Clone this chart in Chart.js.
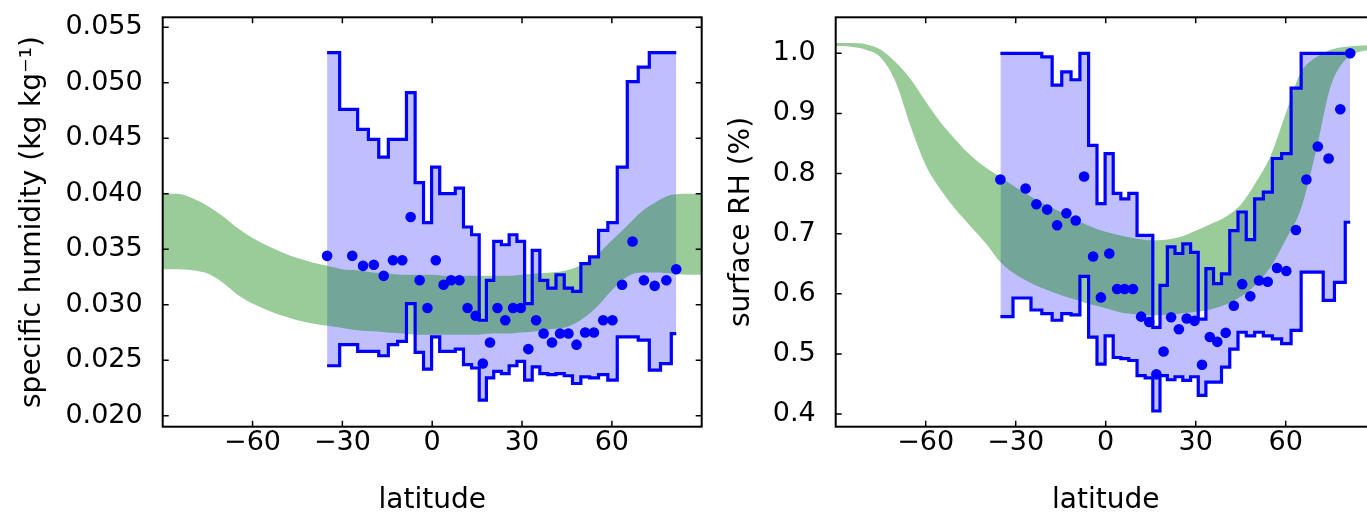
<!DOCTYPE html>
<html><head><meta charset="utf-8">
<script src="https://cdn.jsdelivr.net/npm/chart.js@4.4.1/dist/chart.umd.min.js"></script>
<style>
html,body{margin:0;padding:0;background:#fff;overflow:hidden;width:1367px;height:513px}
#wrap{position:relative;width:1400px;height:513px}
canvas{position:absolute;top:0}
#c1{left:0}
#c2{left:720px}
</style></head><body>
<div id="wrap"><canvas id="c1" width="720" height="513"></canvas><canvas id="c2" width="680" height="513"></canvas></div>
<script>
// ---- data ----
const stationLat = [-35.1,-26.7,-23.1,-19.5,-16.2,-13.1,-10.0,-7.2,-4.2,-1.6,1.2,3.8,6.3,9.1,11.8,14.5,16.9,19.3,21.8,24.4,27.0,29.6,32.1,34.7,37.2,40.0,42.7,45.5,48.2,51.1,54.0,57.1,60.2,63.4,66.9,70.7,74.3,78.2,81.5];

const qDots = [0.0344,0.0344,0.0335,0.0336,0.0326,0.0340,0.0340,0.0379,0.0322,0.0297,0.0340,0.0318,0.0322,0.0322,0.0297,0.0290,0.0247,0.0266,0.0297,0.0286,0.0297,0.0297,0.0260,0.0286,0.0274,0.0266,0.0274,0.0274,0.0264,0.0275,0.0275,0.0286,0.0286,0.0318,0.0357,0.0322,0.0317,0.0322,0.0332];
const qMax = [0.0527,0.0476,0.0458,0.0449,0.0433,0.0449,0.0449,0.0491,0.0410,0.0374,0.0424,0.0400,0.0400,0.0405,0.0370,0.0363,0.0286,0.0322,0.0357,0.0354,0.0363,0.0357,0.0301,0.0349,0.0322,0.0315,0.0327,0.0315,0.0312,0.0337,0.0343,0.0367,0.0374,0.0424,0.0501,0.0514,0.0527,0.0527,0.0527];
const qMin = [0.0245,0.0264,0.0258,0.0258,0.0254,0.0264,0.0267,0.0301,0.0257,0.0242,0.0271,0.0258,0.0258,0.0260,0.0246,0.0243,0.0214,0.0234,0.0240,0.0238,0.0245,0.0249,0.0232,0.0244,0.0238,0.0237,0.0238,0.0236,0.0229,0.0235,0.0234,0.0237,0.0232,0.0271,0.0271,0.0268,0.0241,0.0247,0.0274];

const rhDots = [0.790,0.775,0.749,0.740,0.714,0.734,0.722,0.795,0.662,0.594,0.667,0.608,0.608,0.608,0.562,0.553,0.466,0.504,0.561,0.541,0.559,0.555,0.482,0.528,0.520,0.535,0.580,0.616,0.596,0.622,0.620,0.643,0.638,0.706,0.790,0.845,0.825,0.907,1.000];
const rhMax = [1.000,1.000,1.000,0.994,0.947,0.969,0.956,1.000,0.847,0.750,0.833,0.767,0.758,0.767,0.697,0.697,0.544,0.614,0.678,0.667,0.683,0.669,0.558,0.642,0.617,0.633,0.705,0.736,0.690,0.758,0.769,0.825,0.833,0.942,1.000,1.000,1.000,1.000,1.000];
const rhMin = [0.562,0.593,0.573,0.567,0.556,0.567,0.565,0.629,0.528,0.483,0.530,0.494,0.492,0.489,0.464,0.460,0.405,0.464,0.457,0.462,0.456,0.462,0.431,0.453,0.453,0.478,0.508,0.536,0.530,0.536,0.530,0.525,0.517,0.539,0.636,0.636,0.589,0.619,0.719];

const bandLat = [-90,-85,-80,-75,-70,-65,-60,-55,-50,-45,-40,-35,-30,-25,-20,-15,-10,-5,0,5,10,15,20,25,30,35,40,45,50,55,60,65,70,75,80,85,90];
const qBandHi = [0.0400,0.0400,0.0396,0.0389,0.0380,0.0369,0.0360,0.0353,0.0347,0.0342,0.0338,0.0335,0.0332,0.0331,0.0329,0.0328,0.0327,0.0327,0.0327,0.0326,0.0326,0.0326,0.0326,0.0326,0.0327,0.0328,0.0329,0.0331,0.0336,0.0345,0.0358,0.0371,0.0384,0.0393,0.0399,0.0400,0.0400];
const qBandLo = [0.0332,0.0332,0.0331,0.0328,0.0320,0.0309,0.0301,0.0295,0.0290,0.0286,0.0283,0.0281,0.0279,0.0277,0.0276,0.0275,0.0274,0.0273,0.0273,0.0273,0.0273,0.0273,0.0274,0.0274,0.0275,0.0276,0.0278,0.0280,0.0287,0.0298,0.0313,0.0325,0.0329,0.0329,0.0328,0.0327,0.0327];
const rhBandHi = [1.017,1.017,1.015,1.006,0.985,0.957,0.920,0.885,0.856,0.830,0.810,0.794,0.777,0.762,0.748,0.736,0.723,0.712,0.703,0.697,0.692,0.689,0.690,0.695,0.705,0.716,0.728,0.748,0.785,0.830,0.900,0.968,0.993,1.006,1.011,1.013,1.014];
const rhBandLo = [1.012,1.011,1.006,0.993,0.952,0.878,0.814,0.773,0.740,0.712,0.684,0.652,0.632,0.618,0.607,0.598,0.590,0.582,0.576,0.569,0.566,0.564,0.565,0.567,0.570,0.574,0.582,0.595,0.615,0.645,0.690,0.740,0.835,0.945,0.990,1.003,1.006];

const latTicks = [-60,-30,0,30,60];
const qTicks = [0.020,0.025,0.030,0.035,0.040,0.045,0.050,0.055];
const rhTicks = [0.4,0.5,0.6,0.7,0.8,0.9,1.0];

// ---- drawing ----
const FONT = 'DejaVu Sans';
const pts = (xs, ys) => xs.map((v,i)=>({x:v, y:ys[i]}));
const none = 'rgba(0,0,0,0)';

const frame = {
  id:'frame',
  afterDraw(chart){
    const {ctx, chartArea:a, scales:{x,y}} = chart;
    ctx.save();
    ctx.strokeStyle='#000'; ctx.lineWidth=1.5;
    ctx.beginPath();
    for (const t of x.ticks){ const p=x.getPixelForValue(t.value); ctx.moveTo(p,a.bottom); ctx.lineTo(p,a.bottom-6); ctx.moveTo(p,a.top); ctx.lineTo(p,a.top+6); }
    for (const t of y.ticks){ const p=y.getPixelForValue(t.value); ctx.moveTo(a.left,p); ctx.lineTo(a.left+6,p); ctx.moveTo(a.right,p); ctx.lineTo(a.right-6,p); }
    ctx.stroke();
    ctx.lineWidth=2;
    ctx.strokeRect(a.left,a.top,a.right-a.left,a.bottom-a.top);
    ctx.restore();
  }
};

function makeChart(id, cfg){
  new Chart(document.getElementById(id), {
    type:'line',
    data:{datasets:[
      {data:pts(stationLat,cfg.hi), fill:'+1', backgroundColor:'rgba(0,0,255,0.25)', borderColor:none, borderWidth:0, pointRadius:0, stepped:'middle', order:10},
      {data:pts(stationLat,cfg.lo), fill:false, borderColor:none, borderWidth:0, pointRadius:0, stepped:'middle', order:10},
      {data:pts(bandLat,cfg.bhi), fill:'+1', backgroundColor:'rgba(0,128,0,0.4)', borderColor:none, borderWidth:0, pointRadius:0, cubicInterpolationMode:'monotone', order:8},
      {data:pts(bandLat,cfg.blo), fill:false, borderColor:none, borderWidth:0, pointRadius:0, cubicInterpolationMode:'monotone', order:8},
      {data:pts(stationLat,cfg.hi), fill:false, borderColor:'#0000ff', borderWidth:3.2, pointRadius:0, stepped:'middle', order:5},
      {data:pts(stationLat,cfg.lo), fill:false, borderColor:'#0000ff', borderWidth:3.2, pointRadius:0, stepped:'middle', order:5},
      {data:pts(stationLat,cfg.dots), showLine:false, pointRadius:5.3, pointBackgroundColor:'#0000ff', pointBorderWidth:0, borderColor:'#0000ff', order:1}
    ]},
    options:{
      responsive:false, animation:false, devicePixelRatio:1, events:[],
      layout:{padding:{top:17.3, right:cfg.padRight, left:0, bottom:0}},
      plugins:{legend:{display:false}, tooltip:{enabled:false}},
      scales:{
        x:{type:'linear', min:-90, max:90,
          grid:{display:false}, border:{display:false},
          afterBuildTicks:s=>{ s.ticks = latTicks.map(v=>({value:v})); },
          afterFit:s=>{ s.height = 86.3; },
          ticks:{padding:-8, color:'#000', font:{family:FONT, size:27}, maxRotation:0,
            callback:v=> v<0 ? '\u2212'+Math.abs(v) : String(v)},
          title:{display:true, text:'latitude', color:'#000', font:{family:FONT, size:28}, padding:{top:0,bottom:-5}}
        },
        y:{type:'linear', min:cfg.ymin, max:cfg.ymax,
          grid:{display:false}, border:{display:false},
          afterBuildTicks:s=>{ s.ticks = cfg.yTicks.map(v=>({value:v})); },
          afterFit:s=>{ s.width = cfg.yWidth; },
          ticks:{padding:12, color:'#000', font:{family:FONT, size:27, lineHeight:0.2},
            callback:v=> v.toFixed(cfg.dec)},
          title:{display:true, text:cfg.ytitle, color:'#000', font:{family:FONT, size:28}, padding:{top:cfg.titlePad,bottom:0}}
        }
      }
    },
    plugins:[frame]
  });
}

makeChart('c1', {hi:qMax, lo:qMin, dots:qDots, bhi:qBandHi, blo:qBandLo,
  ymin:0.01901, ymax:0.05589, yTicks:qTicks, dec:3, yWidth:162.7, padRight:18.3,
  ytitle:'specific humidity (kg kg\u207B\u00B9)', titlePad:16});
makeChart('c2', {hi:rhMax, lo:rhMin, dots:rhDots, bhi:rhBandHi, blo:rhBandLo,
  ymin:0.3789, ymax:1.0599, yTicks:rhTicks, dec:1, yWidth:115.7, padRight:24.3,
  ytitle:'surface RH (%)', titlePad:5});
</script>
</body></html>
